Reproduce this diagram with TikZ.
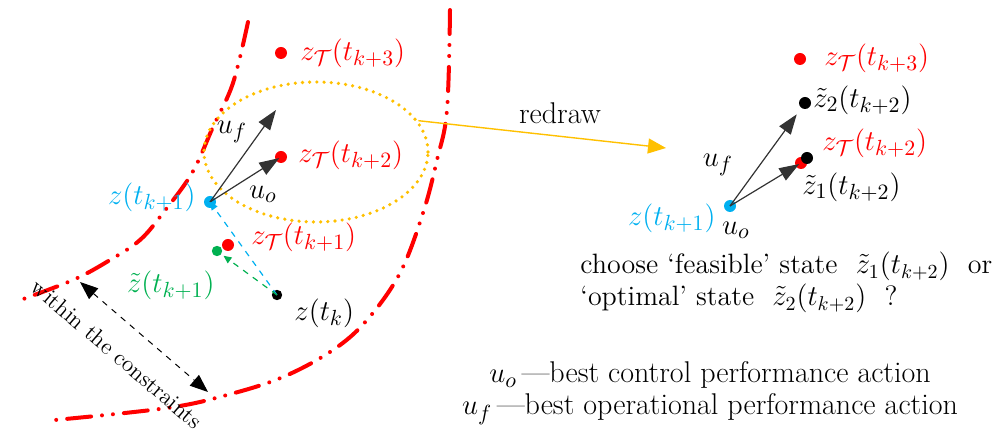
\documentclass[tikz,border=0pt]{standalone}
\usetikzlibrary{arrows.meta,shapes.geometric}

\definecolor{bred}{RGB}{255,0,0}
\definecolor{bblue}{RGB}{0,176,240}
\definecolor{bgreen}{RGB}{0,176,80}
\definecolor{bgold}{RGB}{255,192,0}

\tikzset{
  bound/.style={bred, line width=2pt, line cap=round,
    dash pattern=on 12pt off 5.5pt on 0pt off 5.5pt on 0pt off 5.5pt},
  ctrl/.style={black!80, line width=0.6pt, -{Triangle[length=10pt,width=7pt]}},
  trans/.style={dashed, line width=0.6pt, -{Triangle[length=4pt,width=3.5pt]}},
  lbl/.style={font=\fontsize{15}{18}\selectfont, inner sep=1pt},
}

\begin{document}
\begin{tikzpicture}[x=0.5pt, y=-0.5pt]
    \useasboundingbox (0,0) rectangle (1007,432);

    % Constraint boundaries
    \draw[bound] plot[smooth, tension=0.6] coordinates {
        (248,22) (233,83) (213,127) (192,173) (163,213)
        (140,240) (110,260) (73,280) (15,302)};
    \draw[bound] plot[smooth, tension=0.6] coordinates {
        (450,10) (447,110) (437,160) (423,213) (400,273) (367,320)
        (333,350) (283,377) (227,395) (167,408) (55,420)};

    % Region that is redrawn
    \node[ellipse, draw=bgold, line width=1.8pt, line cap=round,
          dash pattern=on 0pt off 3.6pt, minimum width=112pt,
          minimum height=70pt, inner sep=0pt] (oval) at (316,152) {};

    % States (left)
    \coordinate (zT3) at (281,53);
    \coordinate (zT2) at (281,157);
    \coordinate (zT1) at (228,245);
    \coordinate (zg) at (217,251);
    \coordinate (zb) at (210,202);
    \coordinate (zk) at (277,295);
    \coordinate (ufend) at (276,110);
    \coordinate (cA) at (80,282);
    \coordinate (cB) at (208,392);

    \fill[bred] (zT3) circle (3pt);
    \fill[bred] (zT2) circle (3pt);
    \fill[bgreen] (zg) circle (2.6pt);
    \fill[bred] (zT1) circle (3pt);
    \fill[bblue] (zb) circle (3pt);
    \fill[black] (zk) circle (2.6pt);

    \node[lbl, bred, anchor=west] (lzT3) at (298,53) {$z_{\mathcal{T}}(t_{k+3})$};
    \node[lbl, bred, anchor=west] (lzT2) at (296,155) {$z_{\mathcal{T}}(t_{k+2})$};
    \node[lbl, bred, anchor=west] (lzT1) at (249,237) {$z_{\mathcal{T}}(t_{k+1})$};
    \node[lbl, bblue, anchor=east] (lzb) at (198,197) {$z(t_{k+1})$};
    \node[lbl, bgreen, anchor=east] (lzg) at (217,285) {$\tilde{z}(t_{k+1})$};
    \node[lbl, anchor=west] (lzk) at (292,313) {$z(t_k)$};

    % Control actions (left)
    \draw[ctrl] (zb) -- (ufend);
    \draw[ctrl, shorten >=1pt] (zb) -- (zT2);
    \node[lbl] (luf) at (232,132) {$u_f$};
    \node[lbl] (luo) at (263,194) {$u_o$};

    % Transitions from z(t_k)
    \draw[trans, bblue] (zk) -- (zb);
    \draw[trans, bgreen, shorten >=4pt] (zk) -- (zg);

    % Distance between the constraints
    \draw[dashed, line width=0.5pt,
          {Triangle[length=9pt,width=7pt]}-{Triangle[length=9pt,width=7pt]}]
        (cA) -- (cB);
    \node[font=\fontsize{11.5}{13}\selectfont, rotate=-40.6] (lcon) at (117,354)
        {within the constraints};

    % Redraw arrow
    \coordinate (rtip) at (666,148);
    \draw[bgold, line width=0.7pt, -{Triangle[length=9pt,width=7.5pt]}]
        (oval.17) -- (rtip);
    \node[lbl] (lredraw) at (560,113) {redraw};

    % States (right)
    \coordinate (rzb) at (730,206);
    \coordinate (rzT3) at (800,59);
    \coordinate (rz2) at (805,103);
    \coordinate (rzT2) at (801,163);
    \coordinate (rz1) at (807,158);

    \fill[bred] (rzT3) circle (3pt);
    \fill[black] (rz2) circle (3pt);
    \fill[bred] (rzT2) circle (3pt);
    \fill[black] (rz1) circle (3pt);
    \fill[bblue] (rzb) circle (3pt);

    \node[lbl, bred, anchor=west] (rlzT3) at (822,58) {$z_{\mathcal{T}}(t_{k+3})$};
    \node[lbl, anchor=west] (rlz2) at (811,100) {$\tilde{z}_2(t_{k+2})$};
    \node[lbl, bred, anchor=west] (rlzT2) at (820,143) {$z_{\mathcal{T}}(t_{k+2})$};
    \node[lbl, anchor=west] (rlz1) at (800,187) {$\tilde{z}_1(t_{k+2})$};
    \node[lbl, bblue, anchor=east] (rlzb) at (718,218) {$z(t_{k+1})$};

    \draw[ctrl, shorten >=7pt] (rzb) -- (rz2);
    \draw[ctrl, shorten >=1pt] (rzb) -- (rzT2);
    \node[lbl] (rluf) at (718,165) {$u_f$};
    \node[lbl] (rluo) at (736,230) {$u_o$};

    % Question
    \node[font=\fontsize{14}{16}\selectfont, align=left, anchor=north west,
          inner sep=0pt] (quest) at (580,252)
        {choose `feasible' state \ $\tilde{z}_1(t_{k+2})$ \ or\\
         `optimal' state \ $\tilde{z}_2(t_{k+2})$ \ ?};

    % Legend
    \node[font=\fontsize{15}{16}\selectfont, align=center] (legend) at (710,393)
        {$u_o$\,---best control performance action\\
         $u_f$\,---best operational performance action};
\end{tikzpicture}
\end{document}
